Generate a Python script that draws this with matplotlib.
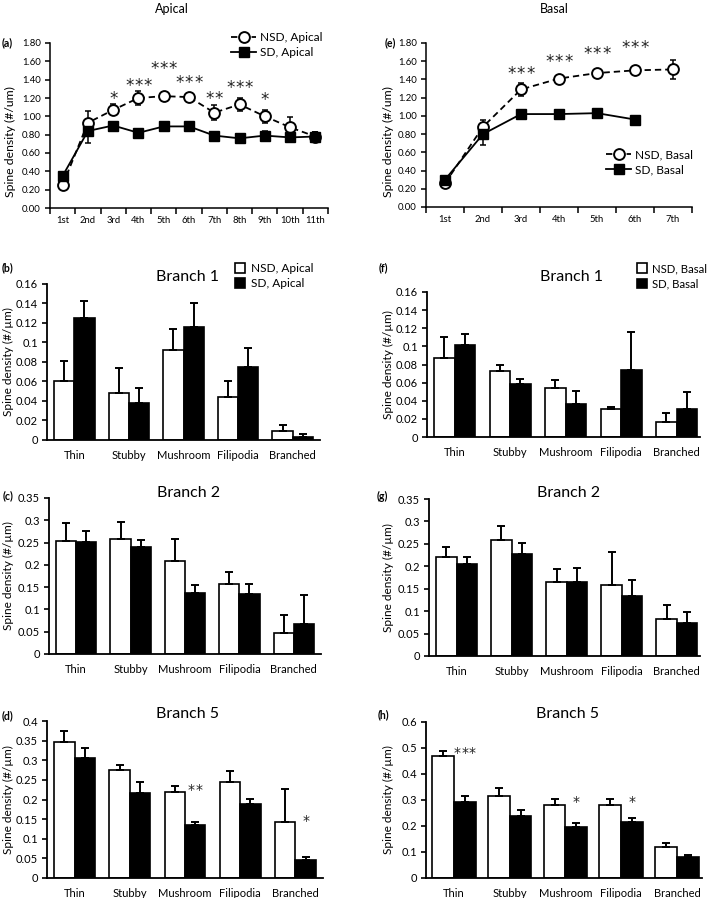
import matplotlib
matplotlib.use('Agg')
import matplotlib.pyplot as plt
import numpy as np
from matplotlib.patches import Patch
from matplotlib.ticker import FuncFormatter

plt.rcParams['font.family'] = ['Lato', 'DejaVu Sans']

# ---------------- data ----------------
apical_orders = ['1st', '2nd', '3rd', '4th', '5th', '6th', '7th', '8th', '9th', '10th', '11th']
nsd_apical = [0.25, 0.93, 1.07, 1.20, 1.22, 1.21, 1.04, 1.13, 1.00, 0.88, 0.78]
nsd_apical_err = [0.03, 0.13, 0.06, 0.08, 0.05, 0.05, 0.08, 0.07, 0.07, 0.11, 0.05]
sd_apical = [0.35, 0.84, 0.90, 0.82, 0.89, 0.89, 0.79, 0.76, 0.79, 0.77, 0.78]
sd_apical_err = [0.03, 0.13, 0.03, 0.03, 0.03, 0.04, 0.03, 0.03, 0.05, 0.04, 0.05]
apical_sig = ['', '', '*', '***', '***', '***', '**', '***', '*', '', '']
apical_sig_y = [0, 0, 1.25, 1.39, 1.57, 1.42, 1.25, 1.37, 1.23, 0, 0]

basal_orders = ['1st', '2nd', '3rd', '4th', '5th', '6th', '7th']
nsd_basal = [0.26, 0.88, 1.29, 1.41, 1.47, 1.50, 1.51]
nsd_basal_err = [0.04, 0.07, 0.07, 0.04, 0.03, 0.03, 0.10]
sd_basal = [0.30, 0.80, 1.02, 1.02, 1.03, 0.96]
sd_basal_err = [0.03, 0.12, 0.02, 0.02, 0.02, 0.03]
basal_sig = ['', '', '***', '***', '***', '***', '']
basal_sig_y = [0, 0, 1.52, 1.65, 1.74, 1.80, 0]

spine_types = ['Thin', 'Stubby', 'Mushroom', 'Filipodia', 'Branched']

# Branch 1
b1_nsd_apical = [0.061, 0.048, 0.092, 0.044, 0.009]
b1_nsd_apical_err = [0.020, 0.026, 0.022, 0.017, 0.006]
b1_sd_apical = [0.125, 0.038, 0.116, 0.075, 0.003]
b1_sd_apical_err = [0.018, 0.015, 0.024, 0.019, 0.003]
b1_nsd_basal = [0.087, 0.073, 0.054, 0.031, 0.017]
b1_nsd_basal_err = [0.023, 0.007, 0.009, 0.002, 0.009]
b1_sd_basal = [0.102, 0.059, 0.036, 0.074, 0.031]
b1_sd_basal_err = [0.012, 0.005, 0.015, 0.042, 0.019]

# Branch 2
b2_nsd_apical = [0.254, 0.257, 0.209, 0.157, 0.046]
b2_nsd_apical_err = [0.039, 0.040, 0.049, 0.027, 0.042]
b2_sd_apical = [0.252, 0.240, 0.137, 0.134, 0.068]
b2_sd_apical_err = [0.023, 0.015, 0.018, 0.024, 0.064]
b2_nsd_basal = [0.221, 0.259, 0.165, 0.158, 0.082]
b2_nsd_basal_err = [0.022, 0.030, 0.029, 0.074, 0.031]
b2_sd_basal = [0.205, 0.227, 0.165, 0.133, 0.074]
b2_sd_basal_err = [0.015, 0.025, 0.032, 0.036, 0.024]

# Branch 5
b5_nsd_apical = [0.346, 0.276, 0.219, 0.244, 0.143]
b5_nsd_apical_err = [0.028, 0.012, 0.016, 0.029, 0.083]
b5_sd_apical = [0.305, 0.216, 0.134, 0.188, 0.046]
b5_sd_apical_err = [0.025, 0.029, 0.008, 0.014, 0.007]
b5_apical_sig = ['', '', '**', '', '*']
b5_apical_sig_y = [0, 0, 0.235, 0, 0.157]
b5_nsd_basal = [0.469, 0.317, 0.281, 0.281, 0.118]
b5_nsd_basal_err = [0.020, 0.029, 0.021, 0.021, 0.017]
b5_sd_basal = [0.294, 0.240, 0.198, 0.217, 0.080]
b5_sd_basal_err = [0.020, 0.023, 0.013, 0.015, 0.007]
b5_basal_sig = ['***', '', '*', '*', '']
b5_basal_sig_y = [0.496, 0, 0.308, 0.308, 0]

# ---------------- figure ----------------
W, H = 709, 898
fig = plt.figure(figsize=(W / 100, H / 100), dpi=100)


def rect(l, t, r, b):
    return [l / W, 1 - b / H, (r - l) / W, (b - t) / H]


def ftext(x, y, s, **kw):
    fig.text(x / W, 1 - y / H, s, **kw)


STAR_COL = '#222222'


def stars(ax, x, y, s, size, spacing_pt):
    k = len(s)
    for j in range(k):
        dx = (j - (k - 1) / 2) * spacing_pt
        ax.annotate('*', (x, y), xytext=(dx, -0.31 * size), textcoords='offset points',
                    ha='center', va='center', fontsize=size, color=STAR_COL,
                    family='DejaVu Sans', annotation_clip=False)


def style_axes(ax, lw=1.2):
    for s in ['top', 'right']:
        ax.spines[s].set_visible(False)
    for s in ['left', 'bottom']:
        ax.spines[s].set_linewidth(lw)
        ax.spines[s].set_color('black')


def line_panel(ax, labels, nsd, nsd_err, sd, sd_err, sig, sig_y, leg_labels):
    n = len(labels)
    xn = np.arange(len(nsd))
    xs = np.arange(len(sd))
    ax.errorbar(xn, nsd, yerr=nsd_err, fmt='none', ecolor='black', elinewidth=1.1,
                capsize=2.2, capthick=1.1, zorder=2)
    ax.errorbar(xs, sd, yerr=sd_err, fmt='none', ecolor='black', elinewidth=1.1,
                capsize=2.2, capthick=1.1, zorder=2)
    ax.plot(xn, nsd, color='black', ls=(0, (3.5, 2.2)), lw=1.3, marker='o', ms=7.8,
            mfc='white', mec='black', mew=1.4, zorder=3, label=leg_labels[0])
    ax.plot(xs, sd, color='black', ls='-', lw=1.3, marker='s', ms=6.6,
            mfc='black', mec='black', zorder=4, label=leg_labels[1])
    for i, (s, y) in enumerate(zip(sig, sig_y)):
        if s:
            stars(ax, i, y, s, 12, 6.6)
    ax.set_xlim(-0.5, n - 0.5)
    ax.set_ylim(0, 1.8)
    ax.set_yticks(np.arange(0, 1.81, 0.2))
    ax.yaxis.set_major_formatter(FuncFormatter(lambda v, p: f'{v:.2f}'))
    ax.set_xticks(np.arange(n + 1) - 0.5)
    ax.set_xticklabels([])
    ax.set_xticks(np.arange(n), minor=True)
    ax.set_xticklabels(labels, minor=True)
    ax.tick_params(axis='x', which='minor', length=0, labelsize=6.8, pad=6)
    ax.tick_params(axis='x', which='major', direction='out', length=4, width=1.1)
    ax.tick_params(axis='y', direction='out', length=3.5, width=1.1, labelsize=6.8, pad=3)
    style_axes(ax, 1.1)


def bar_panel(ax, nsd, nsd_err, sd, sd_err, ymax, ystep, xright=4.5, sig=None, sig_y=None,
              w=0.37):
    x = np.arange(len(spine_types))
    z = np.zeros(len(x))
    ax.bar(x - w / 2, nsd, w, color='white', edgecolor='black', linewidth=1.2,
           yerr=[z, nsd_err], capsize=2.6, error_kw=dict(elinewidth=1.4, capthick=1.4),
           zorder=2)
    ax.bar(x + w / 2, sd, w, color='black', edgecolor='black', linewidth=1.2,
           yerr=[z, sd_err], capsize=2.6, error_kw=dict(elinewidth=1.4, capthick=1.4),
           zorder=2)
    if sig:
        for i, (s, y) in enumerate(zip(sig, sig_y)):
            if s:
                stars(ax, i + w / 2, y, s, 10, 5.6)
    ax.set_xlim(-0.5, xright)
    ax.set_ylim(0, ymax)
    ax.set_yticks(np.arange(0, ymax + ystep / 2, ystep))
    ax.yaxis.set_major_formatter(FuncFormatter(lambda v, p: f'{round(v, 4):g}'))
    ax.set_xticks(x)
    ax.set_xticklabels(spine_types)
    ax.tick_params(axis='x', length=0, labelsize=8, pad=7)
    ax.tick_params(axis='y', direction='out', length=3.5, width=1.2, labelsize=8, pad=3)
    style_axes(ax, 1.3)


LEG_FS = 8.6

# Panel (a)
ax_a = fig.add_axes(rect(50, 43, 328, 208))
line_panel(ax_a, apical_orders, nsd_apical, nsd_apical_err, sd_apical, sd_apical_err,
           apical_sig, apical_sig_y, ['NSD, Apical', 'SD, Apical'])
ax_a.legend(loc='upper left', bbox_to_anchor=(231 / W, 1 - 32 / H),
            bbox_transform=fig.transFigure, frameon=False, fontsize=LEG_FS,
            handlelength=2.1, handletextpad=0.35, labelspacing=0.35, borderpad=0,
            borderaxespad=0)

# Panel (e)
ax_e = fig.add_axes(rect(426, 43, 692, 207))
line_panel(ax_e, basal_orders, nsd_basal, nsd_basal_err, sd_basal, sd_basal_err,
           basal_sig, basal_sig_y, ['NSD, Basal', 'SD, Basal'])
ax_e.legend(loc='upper left', bbox_to_anchor=(606 / W, 1 - 149 / H),
            bbox_transform=fig.transFigure, frameon=False, fontsize=LEG_FS,
            handlelength=2.1, handletextpad=0.35, labelspacing=0.35, borderpad=0,
            borderaxespad=0)

# Panels (b),(c),(d)
ax_b = fig.add_axes(rect(47, 284, 320, 440))
bar_panel(ax_b, b1_nsd_apical, b1_nsd_apical_err, b1_sd_apical, b1_sd_apical_err, 0.16, 0.02)
ax_c = fig.add_axes(rect(49, 498, 321, 654))
bar_panel(ax_c, b2_nsd_apical, b2_nsd_apical_err, b2_sd_apical, b2_sd_apical_err, 0.35, 0.05)
ax_d = fig.add_axes(rect(47, 721, 323, 878))
bar_panel(ax_d, b5_nsd_apical, b5_nsd_apical_err, b5_sd_apical, b5_sd_apical_err, 0.4, 0.05,
          sig=b5_apical_sig, sig_y=b5_apical_sig_y)

# Panels (f),(g),(h)
ax_f = fig.add_axes(rect(427, 292, 700, 437))
bar_panel(ax_f, b1_nsd_basal, b1_nsd_basal_err, b1_sd_basal, b1_sd_basal_err, 0.16, 0.02,
          xright=4.42)
ax_g = fig.add_axes(rect(429, 499, 700, 656))
bar_panel(ax_g, b2_nsd_basal, b2_nsd_basal_err, b2_sd_basal, b2_sd_basal_err, 0.35, 0.05,
          xright=4.42)
ax_h = fig.add_axes(rect(426, 722, 702, 878))
bar_panel(ax_h, b5_nsd_basal, b5_nsd_basal_err, b5_sd_basal, b5_sd_basal_err, 0.6, 0.1,
          xright=4.45, sig=b5_basal_sig, sig_y=b5_basal_sig_y, w=0.39)

# bar legends
leg_handles = [Patch(facecolor='white', edgecolor='black', linewidth=1.2),
               Patch(facecolor='black', edgecolor='black', linewidth=1.2)]
ax_b.legend(leg_handles, ['NSD, Apical', 'SD, Apical'], loc='upper left',
            bbox_to_anchor=(235 / W, 1 - 263 / H), bbox_transform=fig.transFigure,
            frameon=False, fontsize=LEG_FS, handlelength=0.85, handleheight=0.85,
            handletextpad=0.45, labelspacing=0.35, borderpad=0, borderaxespad=0)
ax_f.legend(leg_handles, ['NSD, Basal', 'SD, Basal'], loc='upper left',
            bbox_to_anchor=(637 / W, 1 - 263 / H), bbox_transform=fig.transFigure,
            frameon=False, fontsize=8.2, handlelength=0.9, handleheight=0.9,
            handletextpad=0.4, labelspacing=0.4, borderpad=0, borderaxespad=0)

# titles
ftext(172, 9, 'Apical', ha='center', va='center', fontsize=9)
ftext(554, 9, 'Basal', ha='center', va='center', fontsize=9)
TFS = 11.5
ftext(188, 277, 'Branch 1', ha='center', va='center', fontsize=TFS)
ftext(572, 277, 'Branch 1', ha='center', va='center', fontsize=TFS)
ftext(189, 493, 'Branch 2', ha='center', va='center', fontsize=TFS)
ftext(569, 493, 'Branch 2', ha='center', va='center', fontsize=TFS)
ftext(188, 714, 'Branch 5', ha='center', va='center', fontsize=TFS)
ftext(568, 714, 'Branch 5', ha='center', va='center', fontsize=TFS)

# panel letters
for (x, y, s) in [(7, 43, '(a)'), (390, 43, '(e)'), (7, 268, '(b)'), (383, 268, '(f)'),
                  (8, 496, '(c)'), (382, 496, '(g)'), (8, 716, '(d)'), (383, 715, '(h)')]:
    ftext(x, y, s, ha='center', va='center', fontsize=7.6, fontweight='bold')

# y labels
ftext(10, 142, 'Spine density (#/um)', ha='center', va='center', rotation=90, fontsize=8.8)
ftext(388, 142, 'Spine density (#/um)', ha='center', va='center', rotation=90, fontsize=8.8)
for (x, y) in [(8, 362), (8, 576), (8, 800), (388, 365), (388, 578), (388, 800)]:
    ftext(x, y, 'Spine density (#/\u00b5m)', ha='center', va='center', rotation=90,
          fontsize=8.6)

fig.savefig('out.png', dpi=100)
